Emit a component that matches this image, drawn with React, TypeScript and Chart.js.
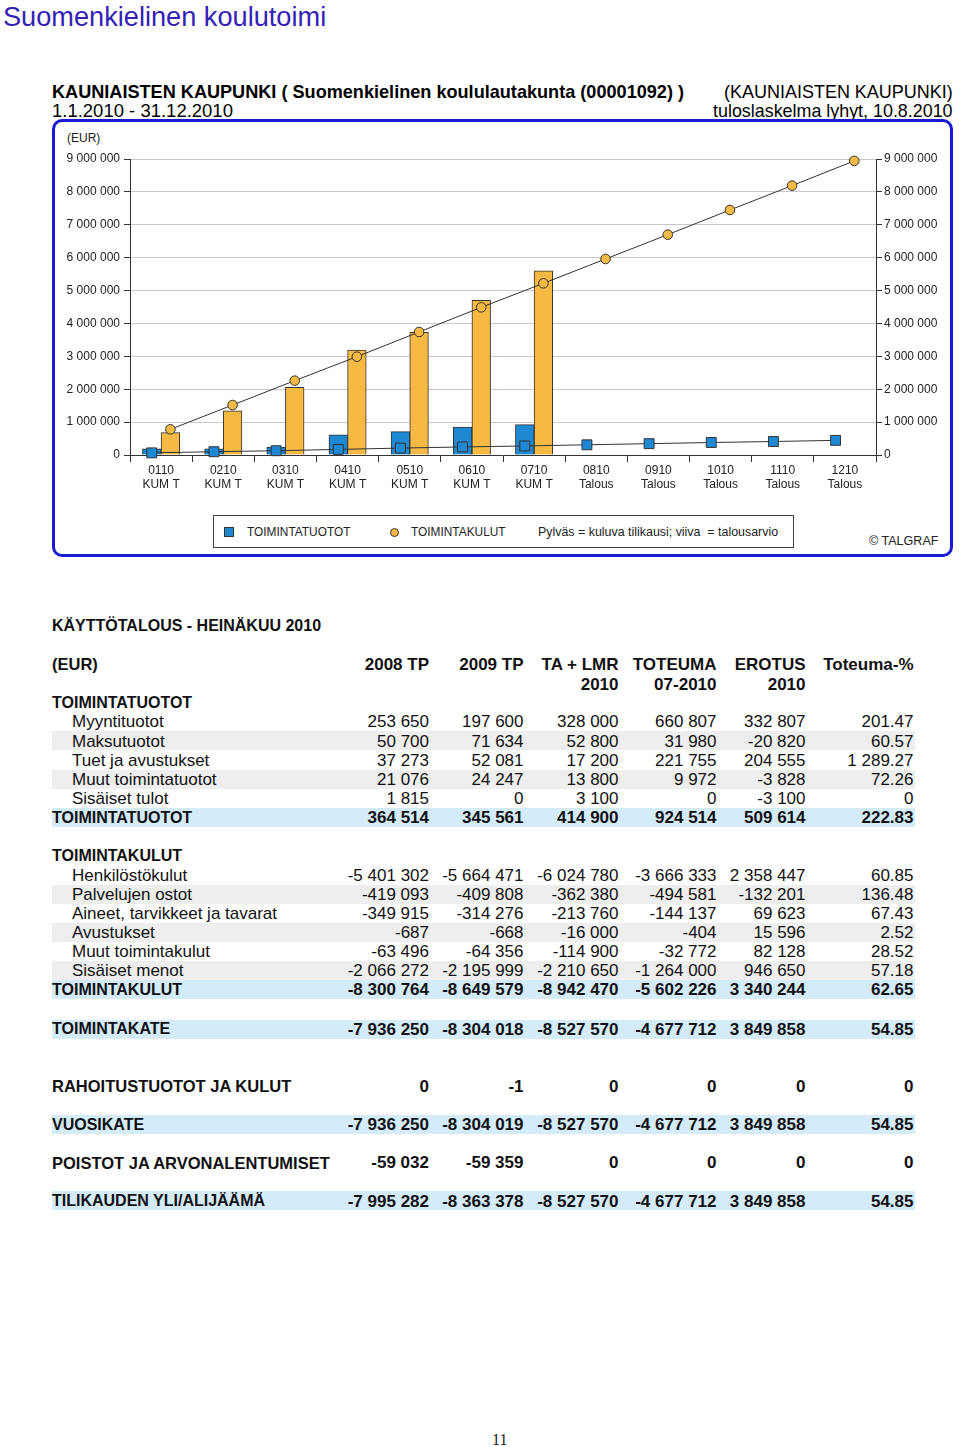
import React, { useEffect, useLayoutEffect, useRef } from "react";
import { Chart, registerables } from "chart.js";

Chart.register(...registerables);

// ---------- chart data ----------
const months = ["0110", "0210", "0310", "0410", "0510", "0610", "0710", "0810", "0910", "1010", "1110", "1210"];
const periodTags = ["KUM T", "KUM T", "KUM T", "KUM T", "KUM T", "KUM T", "KUM T", "Talous", "Talous", "Talous", "Talous", "Talous"];
const revenueActual = [190000, 190000, 240000, 610000, 710000, 850000, 924514, null, null, null, null, null];
const expenseActual = [680000, 1340000, 2060000, 3190000, 3730000, 4700000, 5602226, null, null, null, null, null];
const revenueBudget = [65000, 100000, 130000, 170000, 210000, 245000, 275000, 310000, 345000, 380000, 410000, 445000];
const expenseBudget = [780000, 1520000, 2260000, 2990000, 3740000, 4490000, 5220000, 5960000, 6700000, 7450000, 8190000, 8942470];
const yMax = 9000000;
const yStep = 1000000;

// ---------- table data ----------
const columnHeads = ["2008 TP", "2009 TP", "TA + LMR", "TOTEUMA", "EROTUS", "Toteuma-%"];
const columnHeads2 = ["", "", "2010", "07-2010", "2010", ""];
const revenueRows = [
  ["Myyntituotot", "253 650", "197 600", "328 000", "660 807", "332 807", "201.47"],
  ["Maksutuotot", "50 700", "71 634", "52 800", "31 980", "-20 820", "60.57"],
  ["Tuet ja avustukset", "37 273", "52 081", "17 200", "221 755", "204 555", "1 289.27"],
  ["Muut toimintatuotot", "21 076", "24 247", "13 800", "9 972", "-3 828", "72.26"],
  ["Sisäiset tulot", "1 815", "0", "3 100", "0", "-3 100", "0"],
];
const revenueTotal = ["TOIMINTATUOTOT", "364 514", "345 561", "414 900", "924 514", "509 614", "222.83"];
const expenseRows = [
  ["Henkilöstökulut", "-5 401 302", "-5 664 471", "-6 024 780", "-3 666 333", "2 358 447", "60.85"],
  ["Palvelujen ostot", "-419 093", "-409 808", "-362 380", "-494 581", "-132 201", "136.48"],
  ["Aineet, tarvikkeet ja tavarat", "-349 915", "-314 276", "-213 760", "-144 137", "69 623", "67.43"],
  ["Avustukset", "-687", "-668", "-16 000", "-404", "15 596", "2.52"],
  ["Muut toimintakulut", "-63 496", "-64 356", "-114 900", "-32 772", "82 128", "28.52"],
  ["Sisäiset menot", "-2 066 272", "-2 195 999", "-2 210 650", "-1 264 000", "946 650", "57.18"],
];
const expenseTotal = ["TOIMINTAKULUT", "-8 300 764", "-8 649 579", "-8 942 470", "-5 602 226", "3 340 244", "62.65"];
const operatingMargin = ["TOIMINTAKATE", "-7 936 250", "-8 304 018", "-8 527 570", "-4 677 712", "3 849 858", "54.85"];
const financing = ["RAHOITUSTUOTOT JA KULUT", "0", "-1", "0", "0", "0", "0"];
const annualMargin = ["VUOSIKATE", "-7 936 250", "-8 304 019", "-8 527 570", "-4 677 712", "3 849 858", "54.85"];
const depreciation = ["POISTOT JA ARVONALENTUMISET", "-59 032", "-59 359", "0", "0", "0", "0"];
const periodResult = ["TILIKAUDEN YLI/ALIJÄÄMÄ", "-7 995 282", "-8 363 378", "-8 527 570", "-4 677 712", "3 849 858", "54.85"];

// ---------- styling ----------
const SANS = "'Liberation Sans', Arial, Helvetica, sans-serif";
const SERIF = "'Liberation Serif', 'Times New Roman', serif";
const BLUE = "#1e88d2";
const ORANGE = "#f5b944";
const EDGE = "#333333";
const BAND_BLUE = "#d4ebfa";
const BAND_GRAY = "#eeeeee";
const colRight = [429, 523.5, 618.5, 716.5, 805.5, 913.5];
// offset of each bar centre inside its month slot (in month units)
const SHIFT = 0.15;

type TxtProps = {
  x: number;
  base: number;
  size: number;
  bold?: boolean;
  color?: string;
  w?: number;
  right?: boolean;
  family?: string;
  children: React.ReactNode;
};

function Txt({ x, base, size, bold, color = "#111", w, right, family = SANS, children }: TxtProps) {
  const ref = useRef<HTMLDivElement>(null);
  useLayoutEffect(() => {
    const el = ref.current;
    if (!el || !w) return;
    el.style.transform = "none";
    const nat = el.offsetWidth;
    if (nat > 0) el.style.transform = `scaleX(${w / nat})`;
  }, [w, children]);
  const style: React.CSSProperties = {
    position: "absolute",
    top: base - 0.8465 * size,
    fontSize: size,
    lineHeight: `${size}px`,
    fontWeight: bold ? 700 : 400,
    color,
    fontFamily: family,
    whiteSpace: "pre",
    transformOrigin: right ? "right top" : "left top",
  };
  if (right) style.right = 960 - x;
  else style.left = x;
  return (
    <div ref={ref} style={style}>
      {children}
    </div>
  );
}

function fmt(v: number): string {
  return String(Math.round(v)).replace(/\B(?=(\d{3})+(?!\d))/g, " ");
}

function ChartBlock() {
  const ref = useRef<HTMLCanvasElement>(null);
  useEffect(() => {
    const canvas = ref.current;
    if (!canvas) return;
    Chart.defaults.font.family = SANS;
    const xLabels = months.map((m, i) => [m, periodTags[i]]);
    const chart = new Chart(canvas, {
      type: "line",
      data: {
        datasets: [
          {
            type: "line",
            label: "TOIMINTATUOTOT talousarvio",
            data: revenueBudget.map((v, i) => ({ x: i - SHIFT, y: v })),
            borderColor: EDGE,
            borderWidth: 1,
            pointStyle: "rect",
            pointRadius: 7,
            pointBackgroundColor: BLUE,
            pointBorderColor: EDGE,
            pointBorderWidth: 1,
            clip: false,
            order: 1,
          } as any,
          {
            type: "line",
            label: "TOIMINTAKULUT talousarvio",
            data: expenseBudget.map((v, i) => ({ x: i + SHIFT, y: v })),
            borderColor: EDGE,
            borderWidth: 1,
            pointStyle: "circle",
            pointRadius: 4.8,
            pointBackgroundColor: ORANGE,
            pointBorderColor: EDGE,
            pointBorderWidth: 1,
            clip: false,
            order: 1,
          } as any,
          {
            type: "bar",
            label: "TOIMINTATUOTOT",
            data: revenueActual.map((v, i) => ({ x: i - SHIFT, y: v })),
            backgroundColor: BLUE,
            borderColor: EDGE,
            borderWidth: 1,
            grouped: false,
            categoryPercentage: 1,
            barPercentage: 1,
            order: 2,
          } as any,
          {
            type: "bar",
            label: "TOIMINTAKULUT",
            data: expenseActual.map((v, i) => ({ x: i + SHIFT, y: v })),
            backgroundColor: ORANGE,
            borderColor: EDGE,
            borderWidth: 1,
            grouped: false,
            categoryPercentage: 1,
            barPercentage: 1,
            order: 2,
          } as any,
        ],
      },
      options: {
        responsive: false,
        animation: false,
        devicePixelRatio: 1,
        layout: { padding: { top: 34, left: 0, right: 0, bottom: 0 } },
        plugins: { legend: { display: false }, tooltip: { enabled: false } },
        scales: {
          x: {
            type: "linear",
            min: -0.5,
            max: 11.5,
            offset: false,
            afterBuildTicks: (s: any) => {
              s.ticks = months.map((_, i) => ({ value: i }));
            },
            grid: { drawOnChartArea: false, offset: true, tickLength: 7, tickColor: EDGE, color: EDGE },
            border: { display: true, color: EDGE, width: 1 },
            ticks: {
              font: { size: 12 },
              color: "#222",
              padding: 1,
              autoSkip: false,
              maxRotation: 0,
              callback: (v: any) => xLabels[Math.round(Number(v))] || "",
            },
            afterFit: (s: any) => {
              s.height = 45;
            },
          },
          y: {
            type: "linear",
            position: "left",
            min: 0,
            max: yMax,
            grid: { color: "#c8c8c8", tickColor: EDGE, tickLength: 6, lineWidth: 1 },
            border: { display: true, color: EDGE, width: 1 },
            ticks: { stepSize: yStep, font: { size: 12 }, color: "#222", padding: 4, callback: (v: any) => fmt(Number(v)) },
            afterFit: (s: any) => {
              s.width = 70;
            },
          },
          y2: {
            type: "linear",
            position: "right",
            min: 0,
            max: yMax,
            grid: { drawOnChartArea: false, tickColor: EDGE, tickLength: 6 },
            border: { display: true, color: EDGE, width: 1 },
            ticks: { stepSize: yStep, font: { size: 12 }, color: "#222", padding: 2, callback: (v: any) => fmt(Number(v)) },
            afterFit: (s: any) => {
              s.width = 64;
            },
          },
        },
      } as any,
    });
    return () => chart.destroy();
  }, []);
  return (
    <canvas
      ref={ref}
      width={880}
      height={375}
      style={{ position: "absolute", left: 60, top: 125, width: 880, height: 375 }}
    />
  );
}

type RowKind = "item" | "total" | "plain";

function TableRow({ row, y, kind, shaded }: { row: string[]; y: number; kind: RowKind; shaded?: boolean }) {
  const bold = kind !== "item";
  const band = kind === "total" ? BAND_BLUE : shaded ? BAND_GRAY : null;
  const labelSize = bold ? (kind === "plain" ? 16.5 : 16) : 17;
  return (
    <>
      {band && (
        <div style={{ position: "absolute", left: 52, top: y - 9.5, width: 863, height: 19, background: band }} />
      )}
      <Txt x={kind === "item" ? 72 : 52} base={y + 6} size={labelSize} bold={bold}>
        {row[0]}
      </Txt>
      {row.slice(1).map((v, i) => (
        <Txt key={i} x={colRight[i]} base={y + 6} size={17} bold={bold} right>
          {v}
        </Txt>
      ))}
    </>
  );
}

export default function App() {
  const pitch = 19.1;
  const revStart = 721.8;
  const expStart = 875;
  return (
    <div
      style={{
        position: "absolute",
        left: 0,
        top: 0,
        width: 960,
        height: 1447,
        background: "#fff",
        overflow: "hidden",
        fontFamily: SANS,
      }}
    >
      <Txt x={3} base={27} size={27} color="#3421b5" w={323}>
        Suomenkielinen koulutoimi
      </Txt>

      {/* chart header */}
      <Txt x={52} base={98} size={19} bold color="#000" w={632}>
        KAUNIAISTEN KAUPUNKI ( Suomenkielinen koululautakunta (00001092) )
      </Txt>
      <Txt x={724} base={98} size={19} color="#000" w={229}>
        (KAUNIAISTEN KAUPUNKI)
      </Txt>
      <Txt x={52} base={117} size={19} color="#000" w={181}>
        1.1.2010 - 31.12.2010
      </Txt>
      <Txt x={713} base={117} size={19} color="#000" w={240}>
        tuloslaskelma lyhyt, 10.8.2010
      </Txt>

      {/* chart frame */}
      <div
        style={{
          position: "absolute",
          left: 52,
          top: 119,
          width: 901,
          height: 438,
          boxSizing: "border-box",
          border: "3px solid #1a1ad2",
          borderRadius: 10,
        }}
      />
      <Txt x={67} base={142.5} size={12} color="#222">
        (EUR)
      </Txt>
      <ChartBlock />

      {/* legend */}
      <div
        style={{
          position: "absolute",
          left: 213,
          top: 515,
          width: 581,
          height: 33,
          boxSizing: "border-box",
          border: "1px solid #444",
        }}
      />
      <div
        style={{
          position: "absolute",
          left: 224,
          top: 527,
          width: 10,
          height: 10,
          boxSizing: "border-box",
          background: BLUE,
          border: `1px solid ${EDGE}`,
        }}
      />
      <Txt x={247} base={536.3} size={12} color="#222" w={103}>
        TOIMINTATUOTOT
      </Txt>
      <div
        style={{
          position: "absolute",
          left: 389.5,
          top: 527.5,
          width: 9,
          height: 9,
          boxSizing: "border-box",
          borderRadius: "50%",
          background: ORANGE,
          border: `1px solid ${EDGE}`,
        }}
      />
      <Txt x={411} base={536.3} size={12} color="#222" w={95}>
        TOIMINTAKULUT
      </Txt>
      <Txt x={538} base={536.3} size={12} color="#222" w={240}>
        {"Pylväs = kuluva tilikausi; viiva  = talousarvio"}
      </Txt>
      <Txt x={869} base={545.3} size={12} color="#222" w={69}>
        © TALGRAF
      </Txt>

      {/* table */}
      <Txt x={52} base={631.7} size={16} bold>
        KÄYTTÖTALOUS - HEINÄKUU 2010
      </Txt>
      <Txt x={52} base={670} size={16.5} bold>
        (EUR)
      </Txt>
      {columnHeads.map((h, i) => (
        <Txt key={"h" + i} x={colRight[i]} base={670} size={17} bold right>
          {h}
        </Txt>
      ))}
      {columnHeads2.map((h, i) =>
        h ? (
          <Txt key={"h2" + i} x={colRight[i]} base={690} size={17} bold right>
            {h}
          </Txt>
        ) : null
      )}
      <Txt x={52} base={708.7} size={16} bold>
        TOIMINTATUOTOT
      </Txt>
      {revenueRows.map((r, i) => (
        <TableRow key={"r" + i} row={r} y={revStart + pitch * i} kind="item" shaded={i % 2 === 1} />
      ))}
      <TableRow row={revenueTotal} y={revStart + pitch * 5} kind="total" />

      <Txt x={52} base={861.7} size={16} bold>
        TOIMINTAKULUT
      </Txt>
      {expenseRows.map((r, i) => (
        <TableRow key={"e" + i} row={r} y={expStart + pitch * i} kind="item" shaded={i % 2 === 1} />
      ))}
      <TableRow row={expenseTotal} y={expStart + pitch * 6} kind="total" />
      <TableRow row={operatingMargin} y={1029} kind="total" />
      <TableRow row={financing} y={1086.3} kind="plain" />
      <TableRow row={annualMargin} y={1124.5} kind="total" />
      <TableRow row={depreciation} y={1162.7} kind="plain" />
      <TableRow row={periodResult} y={1200.9} kind="total" />

      <Txt x={492} base={1446} size={16} family={SERIF} color="#222">
        11
      </Txt>
    </div>
  );
}
